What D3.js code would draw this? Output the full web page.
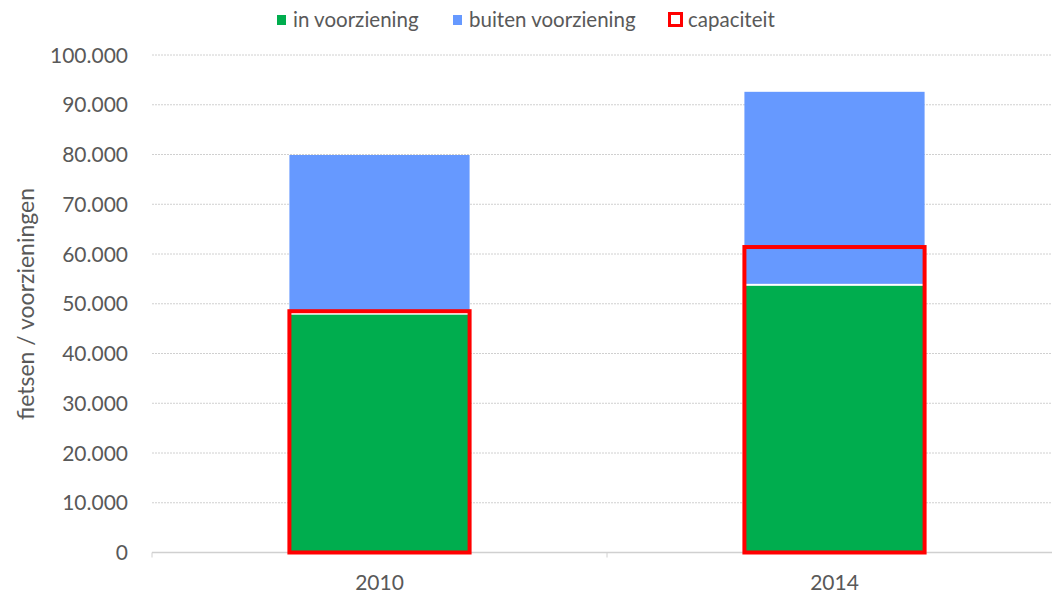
<!DOCTYPE html>
<html lang="nl">
<head>
    <meta charset="utf-8">
    <script src="https://d3js.org/d3.v7.min.js"></script>
    <style>
        body { margin: 0; background: #fff; }
        text { font-family: Lato, "Open Sans", sans-serif; fill: #595959; }
    </style>
</head>
<body>
    <script type="text/javascript">

        let years = ["2010", "2014"];
        let inVoorziening = [47800, 53600];
        let buitenVoorziening = [32100, 39000];
        let capaciteit = [48500, 61400];
        let yTicks = [0, 10000, 20000, 30000, 40000, 50000, 60000, 70000, 80000, 90000, 100000];

        let w = 1054;
        let h = 596;

        let svg = d3.select("body").append("svg")
                    .attr("width", w)
                    .attr("height", h);

        let x = d3.scaleBand().domain(years).range([152, 1062]);
        let y = d3.scaleLinear().domain([0, 100000]).range([552.5, 55]);
        let barW = x.bandwidth() * 0.396;

        let fmt = function(d) {
            return d3.format(",")(d).replace(/,/g, ".");
        };

        // gridlines
        svg.selectAll("line.grid")
            .data(yTicks.filter(function(d) { return d > 0; }))
            .join("line")
                .attr("class", "grid")
                .attr("x1", 152).attr("x2", 1052)
                .attr("y1", function(d) { return y(d); })
                .attr("y2", function(d) { return y(d); })
                .attr("stroke", "#d0d0d0")
                .attr("stroke-width", 1)
                .attr("stroke-dasharray", "2,1");

        // y tick labels
        svg.selectAll("text.ytick")
            .data(yTicks)
            .join("text")
                .attr("class", "ytick")
                .attr("x", 128)
                .attr("y", function(d) { return y(d) + 7.5; })
                .attr("text-anchor", "end")
                .style("font-size", "21px")
                .text(fmt);

        // stacked bars
        svg.selectAll("rect.green")
            .data(years)
            .join("rect")
                .attr("class", "green")
                .attr("x", function(d) { return x(d) + (x.bandwidth() - barW) / 2; })
                .attr("width", barW)
                .attr("y", function(d, i) { return y(inVoorziening[i]); })
                .attr("height", function(d, i) { return y(0) - y(inVoorziening[i]); })
                .attr("fill", "#00ad4e");

        svg.selectAll("rect.blue")
            .data(years)
            .join("rect")
                .attr("class", "blue")
                .attr("x", function(d) { return x(d) + (x.bandwidth() - barW) / 2; })
                .attr("width", barW)
                .attr("y", function(d, i) { return y(inVoorziening[i] + buitenVoorziening[i]); })
                .attr("height", function(d, i) { return y(inVoorziening[i]) - y(inVoorziening[i] + buitenVoorziening[i]) - 2; })
                .attr("fill", "#6699ff");

        // x axis
        svg.append("line")
            .attr("x1", 152).attr("x2", 1052)
            .attr("y1", y(0)).attr("y2", y(0))
            .attr("stroke", "#d0d0d0").attr("stroke-width", 1.5);

        svg.selectAll("line.xtick")
            .data([152, 152 + x.bandwidth()])
            .join("line")
                .attr("class", "xtick")
                .attr("x1", function(d) { return d; }).attr("x2", function(d) { return d; })
                .attr("y1", y(0)).attr("y2", y(0) + 5)
                .attr("stroke", "#d0d0d0");

        svg.selectAll("text.xlabel")
            .data(years)
            .join("text")
                .attr("class", "xlabel")
                .attr("x", function(d) { return x(d) + x.bandwidth() / 2; })
                .attr("y", 590)
                .attr("text-anchor", "middle")
                .style("font-size", "21px")
                .text(function(d) { return d; });

        // capaciteit boxes
        svg.selectAll("rect.cap")
            .data(years)
            .join("rect")
                .attr("class", "cap")
                .attr("x", function(d) { return x(d) + (x.bandwidth() - barW) / 2; })
                .attr("width", barW)
                .attr("y", function(d, i) { return y(capaciteit[i]); })
                .attr("height", function(d, i) { return y(0) - y(capaciteit[i]); })
                .attr("fill", "none")
                .attr("stroke", "#ff0000")
                .attr("stroke-width", 4);

        // y-axis title
        svg.append("text")
            .attr("transform", "translate(34,304) rotate(-90)")
            .attr("text-anchor", "middle")
            .style("font-size", "23px")
            .text("fietsen / voorzieningen");

        // legend
        let legend = [
            { label: "in voorziening", x: 277, type: "fill", color: "#00ad4e" },
            { label: "buiten voorziening", x: 453, type: "fill", color: "#6699ff" },
            { label: "capaciteit", x: 668, type: "box", color: "#ff0000" }
        ];

        legend.forEach(function(l) {
            if (l.type === "fill") {
                svg.append("rect")
                    .attr("x", l.x).attr("y", 15)
                    .attr("width", 9).attr("height", 10)
                    .attr("fill", l.color);
                svg.append("text")
                    .attr("x", l.x + 16).attr("y", 27)
                    .style("font-size", "20.5px")
                    .text(l.label);
            } else {
                svg.append("rect")
                    .attr("x", l.x + 1.5).attr("y", 13.5)
                    .attr("width", 12).attr("height", 12)
                    .attr("fill", "none")
                    .attr("stroke", l.color)
                    .attr("stroke-width", 3);
                svg.append("text")
                    .attr("x", l.x + 20).attr("y", 27)
                    .style("font-size", "20.5px")
                    .text(l.label);
            }
        });

    </script>
</body>
</html>
